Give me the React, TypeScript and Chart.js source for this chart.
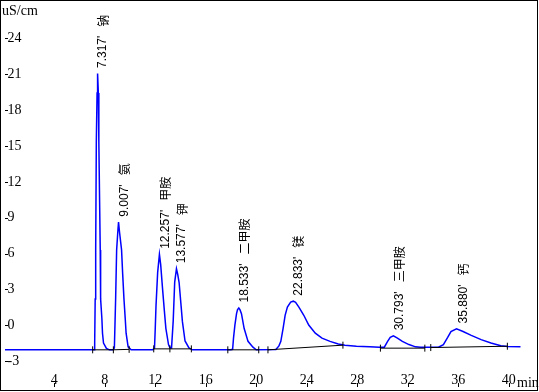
import React, { useEffect, useRef } from "react";
import { Chart, registerables } from "chart.js";

Chart.register(...registerables);

// Conductivity trace (time in min, signal in uS/cm)
const traceTimes = [
  0, 6.96,
  7.16, 7.2, 7.24, 7.28, 7.33, 7.39, 7.43, 7.49, 7.53, 7.59, 7.64, 7.67, 7.77, 7.82, 7.9, 8.13, 8.37,
  8.68, 8.76, 8.86, 8.94, 9.03, 9.09, 9.17, 9.33, 9.42, 9.52, 9.62, 9.69, 9.85, 10.09,
  11.8, 11.94, 12.0, 12.06, 12.19, 12.33, 12.43, 12.58, 12.72, 12.84, 13.05, 13.17,
  13.29, 13.42, 13.54, 13.68, 13.78, 13.89, 14.15, 14.36, 14.67, 14.93,
  17.97, 18.13, 18.2, 18.31, 18.44, 18.52, 18.62, 18.71, 18.83, 19.04, 19.35, 19.74, 20.0,
  21.56, 21.8, 21.95, 22.13, 22.29, 22.47, 22.73, 22.94, 23.12, 23.38, 23.77, 24.16, 24.68, 25.21, 25.85, 26.5, 27.03, 27.94, 28.98,
  29.76, 30.15, 30.41, 30.62, 30.87, 31.19, 31.58, 32.1, 32.62, 33.01,
  34.44, 34.83, 35.17, 35.43, 35.87, 36.39, 37.04, 37.82, 38.6, 39.38, 39.91, 40.94,
];
const traceValues = [
  -2.05, -2.05,
  -2.05, -1.48, 2.21, 6.31, 15.33, 19.43, 21.07, 19.43, 15.33, 10.41, 6.31, 2.21, 0.57, -0.66, -1.48, -1.93, -2.05,
  -2.05, -1.89, 2.21, 6.31, 7.79, 8.63, 7.79, 6.31, 4.26, 2.21, 0.57, -0.66, -1.8, -2.05,
  -2.05, -1.89, -0.25, 1.66, 4.43, 5.94, 5.08, 3.03, 1.23, -0.25, -1.61, -1.89,
  -1.89, 0.33, 3.61, 4.73, 4.26, 3.58, 0.33, -1.31, -1.89, -2.05,
  -2.05, -2.01, -1.07, 0.02, 0.98, 1.31, 1.45, 1.31, 0.98, -0.25, -1.34, -1.83, -2.05,
  -2.02, -1.72, -1.34, -0.25, 0.84, 1.53, 1.94, 2.02, 1.93, 1.53, 0.84, 0.02, -0.66, -1.07, -1.34, -1.56, -1.66, -1.75, -1.8,
  -1.83, -1.83, -1.34, -1.01, -0.88, -1.07, -1.34, -1.61, -1.8, -1.83,
  -1.83, -1.61, -1.01, -0.52, -0.3, -0.52, -0.84, -1.2, -1.48, -1.7, -1.78, -1.8,
];

// Integration baselines (null = break between segments)
const baseTimes = [7.04, 8.68, 9.93, null, 11.88, 13.16, 14.86, null, 17.75, 20.2, null, 20.93, 26.87, null, 29.84, 33.36, null, 33.83, 39.9];
const baseValues = [-2.05, -2.05, -2.01, null, -1.97, -1.97, -1.97, null, -2.05, -2.05, null, -2.05, -1.66, null, -1.91, -1.91, null, -1.86, -1.75];

// Peak start / end markers
const markTimes = [7.04, 8.68, 9.93, 11.88, 13.16, 14.86, 17.75, 20.2, 20.93, 26.87, 29.84, 33.36, 33.83, 39.9];
const markValues = [-2.05, -2.05, -2.01, -1.97, -1.97, -1.97, -2.05, -2.05, -2.05, -1.66, -1.91, -1.91, -1.86, -1.75];

// Peak annotations
const peakTimes = [7.317, 9.007, 12.257, 13.577, 18.533, 22.833, 30.793, 35.88];
const peakLabels = ["7.317'", "9.007'", "12.257'", "13.577'", "18.533'", "22.833'", "30.793'", "35.880'"];
const peakNames = ["钠", "氨", "甲胺", "钾", "二甲胺", "镁", "三甲胺", "钙"];
const peakHeights = [21.07, 8.63, 5.94, 4.73, 1.45, 2.02, -0.88, -0.3];

// Axes
const xTicks = [4, 8, 12, 16, 20, 24, 28, 32, 36, 40];
const yTicks = [24, 21, 18, 15, 12, 9, 6, 3, 0, -3];
const xUnit = "min";
const yUnit = "uS/cm";

const SERIF = '"Liberation Serif", "Times New Roman", serif';
const SANS = '"Liberation Sans", Arial, sans-serif';
const CJK = '"Noto Sans CJK SC", sans-serif';

const decorPlugin = {
  id: "decor",
  afterDraw(chart: any) {
    const { ctx, chartArea } = chart;
    const xs = chart.scales.x;
    const ys = chart.scales.y;
    ctx.save();
    // frame
    ctx.strokeStyle = "#000";
    ctx.lineWidth = 1;
    ctx.strokeRect(0.5, 0.5, 537, 390);
    // tick marks inside
    ctx.beginPath();
    yTicks.forEach((v) => {
      const p = Math.round(ys.getPixelForValue(v)) + 0.5;
      ctx.moveTo(chartArea.left, p);
      ctx.lineTo(chartArea.left + 3, p);
    });
    xTicks.forEach((v) => {
      const p = Math.round(xs.getPixelForValue(v)) + 0.5;
      ctx.moveTo(p, chartArea.bottom);
      ctx.lineTo(p, chartArea.bottom - 4);
    });
    ctx.stroke();
    // units
    ctx.fillStyle = "#000";
    ctx.font = "14px " + SERIF;
    ctx.textAlign = "left";
    ctx.textBaseline = "alphabetic";
    ctx.fillText(yUnit, 2, 15);
    ctx.fillText(xUnit, 517, 387);
    // peak labels
    peakTimes.forEach((t, i) => {
      const x = xs.getPixelForValue(t) + 6.8;
      const y = ys.getPixelForValue(peakHeights[i]) - 5.5;
      ctx.save();
      ctx.translate(x, y);
      ctx.rotate(-Math.PI / 2);
      ctx.textAlign = "left";
      ctx.textBaseline = "middle";
      ctx.font = "12px " + SANS;
      ctx.fillText(peakLabels[i], 0, 0);
      const w = ctx.measureText(peakLabels[i]).width;
      ctx.font = "12px " + CJK;
      ctx.fillText(peakNames[i], w + 9, 0);
      ctx.restore();
    });
    ctx.restore();
  },
};

export default function App() {
  const ref = useRef<HTMLCanvasElement | null>(null);
  useEffect(() => {
    if (!ref.current) return;
    const trace = traceTimes.map((t, i) => ({ x: t, y: traceValues[i] }));
    const base = baseTimes.map((t, i) => ({ x: t, y: baseValues[i] }));
    const marks = markTimes.map((t, i) => ({ x: t, y: markValues[i] }));
    const zeroFit = (s: any) => {
      if (s.isHorizontal()) s.height = 0;
      else s.width = 0;
      s.paddingTop = 0;
      s.paddingBottom = 0;
      s.paddingLeft = 0;
      s.paddingRight = 0;
    };
    const chart = new Chart(ref.current, {
      type: "line",
      data: {
        datasets: [
          {
            data: marks as any,
            showLine: false,
            pointStyle: "line",
            pointRotation: 90,
            pointRadius: 3.5,
            pointBorderColor: "#000",
            pointBorderWidth: 1,
            borderColor: "#000",
          },
          {
            data: base as any,
            borderColor: "#000",
            borderWidth: 1,
            pointRadius: 0,
            spanGaps: false,
            tension: 0,
          },
          {
            data: trace as any,
            borderColor: "#0000ff",
            borderWidth: 1.5,
            pointRadius: 0,
            tension: 0,
          },
        ],
      },
      options: {
        animation: false,
        responsive: false,
        devicePixelRatio: 1,
        events: [],
        layout: { padding: { left: 0, top: 0, right: 2, bottom: 2 } },
        plugins: { legend: { display: false }, tooltip: { enabled: false } },
        scales: {
          x: {
            type: "linear",
            position: "bottom",
            min: 0.094,
            max: 42.01,
            grid: { display: false },
            border: { display: false },
            afterBuildTicks: (s: any) => {
              s.ticks = xTicks.map((v) => ({ value: v }));
            },
            afterFit: zeroFit,
            ticks: {
              mirror: true,
              padding: 0,
              autoSkip: false,
              maxRotation: 0,
              minRotation: 0,
              color: "#000",
              font: { family: SERIF, size: 14, lineHeight: 1 },
              callback: (v: any) => String(v),
            },
          },
          y: {
            type: "linear",
            position: "left",
            min: -5.16,
            max: 26.8,
            grid: { display: false },
            border: { display: false },
            afterBuildTicks: (s: any) => {
              s.ticks = yTicks.map((v) => ({ value: v }));
            },
            afterFit: zeroFit,
            ticks: {
              mirror: true,
              padding: 2.5,
              autoSkip: false,
              color: "#000",
              font: { family: SERIF, size: 14, lineHeight: 1 },
              callback: (v: any) => String(v),
            },
          },
        },
      },
      plugins: [decorPlugin],
    });
    return () => chart.destroy();
  }, []);
  return (
    <canvas
      ref={ref}
      width={539}
      height={392}
      style={{ position: "fixed", left: 0, top: 0, display: "block", background: "#fff" }}
    />
  );
}
